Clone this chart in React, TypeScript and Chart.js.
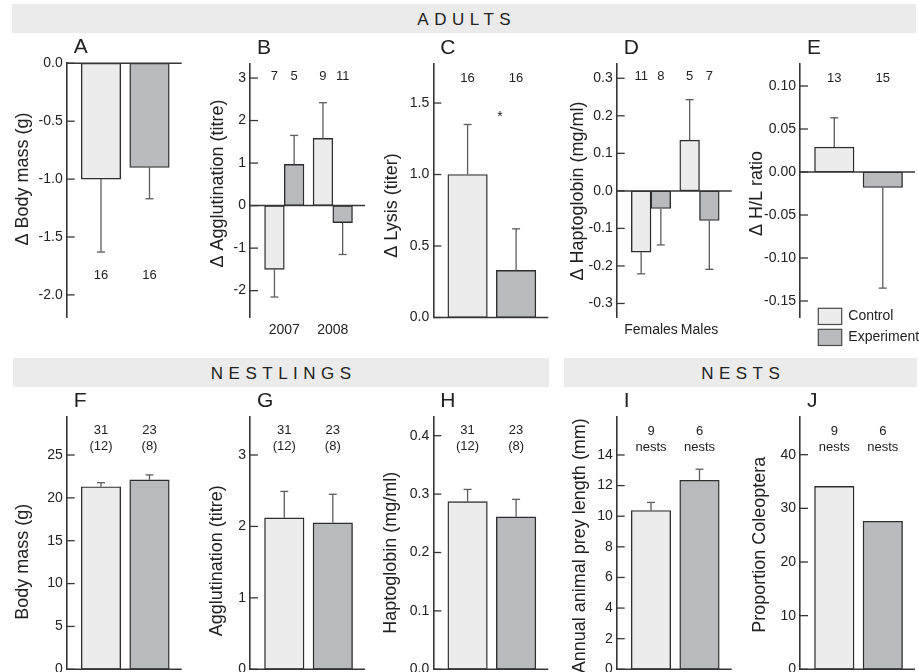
import React, { useEffect, useRef } from "react";
import { Chart, registerables } from "chart.js";

Chart.register(...registerables);

const FONT = '"Liberation Sans", Arial, Helvetica, sans-serif';
Chart.defaults.font.family = FONT;

const CTRL_FILL = "#ececec";
const EXP_FILL = "#b9babd";
const EDGE = "#2e2e2e";
const ERR = "#5c5c5c";
const AXIS = "#363636";
const INK = "#222222";
const BAND = "#ebebeb";

const seriesNames = ["Control", "Experiment"];
const sectionTitles = ["ADULTS", "NESTLINGS", "NESTS"];

// A – adults, change in body mass
const massChangeCtrl = [-1.0];
const massChangeCtrlSE = [0.63];
const massChangeExp = [-0.9];
const massChangeExpSE = [0.27];
const massChangeCtrlN = ["16"];
const massChangeExpN = ["16"];
const massChangeTicks = [0, -0.5, -1, -1.5, -2];

// B – adults, change in agglutination by year
const years = ["2007", "2008"];
const agglutChangeCtrl = [-1.5, 1.58];
const agglutChangeCtrlSE = [0.65, 0.84];
const agglutChangeExp = [0.97, -0.4];
const agglutChangeExpSE = [0.68, 0.75];
const agglutChangeCtrlN = ["7", "9"];
const agglutChangeExpN = ["5", "11"];
const agglutChangeTicks = [3, 2, 1, 0, -1, -2];

// C – adults, change in lysis
const lysisChangeCtrl = [1.0];
const lysisChangeCtrlSE = [0.35];
const lysisChangeExp = [0.33];
const lysisChangeExpSE = [0.29];
const lysisChangeCtrlN = ["16"];
const lysisChangeExpN = ["16"];
const lysisChangeTicks = [0, 0.5, 1, 1.5];

// D – adults, change in haptoglobin by sex
const sexes = ["Females", "Males"];
const haptoChangeCtrl = [-0.163, 0.135];
const haptoChangeCtrlSE = [0.058, 0.108];
const haptoChangeExp = [-0.047, -0.079];
const haptoChangeExpSE = [0.097, 0.13];
const haptoChangeCtrlN = ["11", "5"];
const haptoChangeExpN = ["8", "7"];
const haptoChangeTicks = [0.3, 0.2, 0.1, 0, -0.1, -0.2, -0.3];

// E – adults, change in H/L ratio
const hlChangeCtrl = [0.029];
const hlChangeCtrlSE = [0.034];
const hlChangeExp = [-0.018];
const hlChangeExpSE = [0.117];
const hlChangeCtrlN = ["13"];
const hlChangeExpN = ["15"];
const hlChangeTicks = [0.1, 0.05, 0, -0.05, -0.1, -0.15];

// F – nestlings, body mass
const nestMassCtrl = [21.3];
const nestMassCtrlSE = [0.47];
const nestMassExp = [22.1];
const nestMassExpSE = [0.58];
const nestlingCtrlN = ["31\n(12)"];
const nestlingExpN = ["23\n(8)"];
const nestMassTicks = [0, 5, 10, 15, 20, 25];

// G – nestlings, agglutination
const nestAggCtrl = [2.12];
const nestAggCtrlSE = [0.37];
const nestAggExp = [2.05];
const nestAggExpSE = [0.4];
const nestAggTicks = [0, 1, 2, 3];

// H – nestlings, haptoglobin
const nestHaptoCtrl = [0.287];
const nestHaptoCtrlSE = [0.021];
const nestHaptoExp = [0.261];
const nestHaptoExpSE = [0.03];
const nestHaptoTicks = [0, 0.1, 0.2, 0.3, 0.4];

// I – nests, annual animal prey length
const preyLenCtrl = [10.37];
const preyLenCtrlSE = [0.53];
const preyLenExp = [12.35];
const preyLenExpSE = [0.72];
const nestsCtrlN = ["9\nnests"];
const nestsExpN = ["6\nnests"];
const preyLenTicks = [0, 2, 4, 6, 8, 10, 12, 14];

// J – nests, proportion Coleoptera
const coleoCtrl = [34.1];
const coleoExp = [27.6];
const coleoTicks = [0, 10, 20, 30, 40];

type PanelSpec = {
  letter: string;
  title: string;
  ax: number;
  top: number;
  bottom: number;
  min: number;
  max: number;
  ticks: number[];
  dec: number;
  groups: string[] | null;
  ctrl: number[];
  exp: number[];
  ctrlSE: number[] | null;
  expSE: number[] | null;
  ctrlN: string[];
  expN: string[];
  nY: number;
  titleDX: number;
  titleY: number;
  legend?: boolean;
  star?: boolean;
};

const TOP1 = 64;
const BOT1 = 317;
const TOP2 = 416.7;
const BOT2 = 669.3;

const panels: PanelSpec[] = [
  { letter: "A", title: "Δ Body mass (g)", ax: 66.7, top: 63.3, bottom: BOT1, min: -2.191, max: 0, ticks: massChangeTicks, dec: 1, groups: null,
    ctrl: massChangeCtrl, exp: massChangeExp, ctrlSE: massChangeCtrlSE, expSE: massChangeExpSE, ctrlN: massChangeCtrlN, expN: massChangeExpN, nY: 211.7, titleDX: 39, titleY: 115.7 },
  { letter: "B", title: "Δ Agglutination (titre)", ax: 250, top: TOP1, bottom: BOT1, min: -2.62, max: 3.33, ticks: agglutChangeTicks, dec: 0, groups: years,
    ctrl: agglutChangeCtrl, exp: agglutChangeExp, ctrlSE: agglutChangeCtrlSE, expSE: agglutChangeExpSE, ctrlN: agglutChangeCtrlN, expN: agglutChangeExpN, nY: 12, titleDX: 27.3, titleY: 119.5 },
  { letter: "C", title: "Δ Lysis (titer)", ax: 433.3, top: TOP1, bottom: 317.5, min: 0, max: 1.773, ticks: lysisChangeTicks, dec: 1, groups: null,
    ctrl: lysisChangeCtrl, exp: lysisChangeExp, ctrlSE: lysisChangeCtrlSE, expSE: lysisChangeExpSE, ctrlN: lysisChangeCtrlN, expN: lysisChangeExpN, nY: 14, titleDX: 36, titleY: 141.5, star: true },
  { letter: "D", title: "Δ Haptoglobin (mg/ml)", ax: 616.7, top: TOP1, bottom: BOT1, min: -0.336, max: 0.338, ticks: haptoChangeTicks, dec: 1, groups: sexes,
    ctrl: haptoChangeCtrl, exp: haptoChangeExp, ctrlSE: haptoChangeCtrlSE, expSE: haptoChangeExpSE, ctrlN: haptoChangeCtrlN, expN: haptoChangeExpN, nY: 12, titleDX: 34, titleY: 127 },
  { letter: "E", title: "Δ H/L ratio", ax: 800, top: TOP1, bottom: BOT1, min: -0.1686, max: 0.1256, ticks: hlChangeTicks, dec: 2, groups: null,
    ctrl: hlChangeCtrl, exp: hlChangeExp, ctrlSE: hlChangeCtrlSE, expSE: hlChangeExpSE, ctrlN: hlChangeCtrlN, expN: hlChangeExpN, nY: 14, titleDX: 38.3, titleY: 129.5, legend: true },
  { letter: "F", title: "Body mass (g)", ax: 66.7, top: TOP2, bottom: BOT2, min: 0, max: 29.47, ticks: nestMassTicks, dec: 0, groups: null,
    ctrl: nestMassCtrl, exp: nestMassExp, ctrlSE: nestMassCtrlSE, expSE: nestMassExpSE, ctrlN: nestlingCtrlN, expN: nestlingExpN, nY: 13.3, titleDX: 39, titleY: 145 },
  { letter: "G", title: "Agglutination (titre)", ax: 250, top: TOP2, bottom: BOT2, min: 0, max: 3.536, ticks: nestAggTicks, dec: 0, groups: null,
    ctrl: nestAggCtrl, exp: nestAggExp, ctrlSE: nestAggCtrlSE, expSE: nestAggExpSE, ctrlN: nestlingCtrlN, expN: nestlingExpN, nY: 13.3, titleDX: 28.3, titleY: 144 },
  { letter: "H", title: "Haptoglobin (mg/ml)", ax: 433.3, top: TOP2, bottom: BOT2, min: 0, max: 0.4325, ticks: nestHaptoTicks, dec: 1, groups: null,
    ctrl: nestHaptoCtrl, exp: nestHaptoExp, ctrlSE: nestHaptoCtrlSE, expSE: nestHaptoExpSE, ctrlN: nestlingCtrlN, expN: nestlingExpN, nY: 13.3, titleDX: 37.3, titleY: 136 },
  { letter: "I", title: "Annual animal prey length (mm)", ax: 616.7, top: TOP2, bottom: BOT2, min: 0, max: 16.5, ticks: preyLenTicks, dec: 0, groups: null,
    ctrl: preyLenCtrl, exp: preyLenExp, ctrlSE: preyLenCtrlSE, expSE: preyLenExpSE, ctrlN: nestsCtrlN, expN: nestsExpN, nY: 14.3, titleDX: 31.7, titleY: 129 },
  { letter: "J", title: "Proportion Coleoptera", ax: 800, top: TOP2, bottom: BOT2, min: 0, max: 47.08, ticks: coleoTicks, dec: 0, groups: null,
    ctrl: coleoCtrl, exp: coleoExp, ctrlSE: null, expSE: null, ctrlN: nestsCtrlN, expN: nestsExpN, nY: 14.3, titleDX: 35, titleY: 128 },
];

const PLOT_W = 115;
const Y_W = 62;

function line(ctx: CanvasRenderingContext2D, x1: number, y1: number, x2: number, y2: number) {
  ctx.beginPath();
  ctx.moveTo(x1, y1);
  ctx.lineTo(x2, y2);
  ctx.stroke();
}

function makeDecor(p: PanelSpec) {
  return {
    id: "decor" + p.letter,
    afterDraw(chart: any) {
      const ctx: CanvasRenderingContext2D = chart.ctx;
      const area = chart.chartArea;
      const ys = chart.scales.y;
      const xs = chart.scales.x;
      ctx.save();
      ctx.strokeStyle = AXIS;
      // zero / base line
      const y0 = ys.getPixelForValue(0);
      ctx.lineWidth = 1.5;
      line(ctx, area.left, y0, area.right, y0);
      // inward ticks
      ctx.lineWidth = 1.3;
      for (const v of p.ticks) {
        const y = ys.getPixelForValue(v);
        line(ctx, area.left, y, area.left + 8, y);
      }
      // error bars
      ctx.strokeStyle = ERR;
      ctx.lineWidth = 1.3;
      [p.ctrlSE, p.expSE].forEach((se, di) => {
        if (!se) return;
        const vals = di === 0 ? p.ctrl : p.exp;
        const meta = chart.getDatasetMeta(di);
        meta.data.forEach((el: any, i: number) => {
          const v = vals[i];
          const end = v + Math.sign(v) * se[i];
          const yEnd = ys.getPixelForValue(end);
          line(ctx, el.x, el.y, el.x, yEnd);
          line(ctx, el.x - 4, yEnd, el.x + 4, yEnd);
        });
      });
      // sample sizes
      ctx.fillStyle = INK;
      ctx.font = `13px ${FONT}`;
      ctx.textAlign = "center";
      ctx.textBaseline = "middle";
      [p.ctrlN, p.expN].forEach((labels, di) => {
        const meta = chart.getDatasetMeta(di);
        meta.data.forEach((el: any, i: number) => {
          const lines = (labels[i] || "").split("\n");
          lines.forEach((t, li) => ctx.fillText(t, el.x, area.top + p.nY + li * 16));
        });
      });
      // significance star
      if (p.star) {
        const el = chart.getDatasetMeta(1).data[0];
        ctx.font = `14px ${FONT}`;
        ctx.textBaseline = "alphabetic";
        ctx.fillText("*", el.x - 16, area.top + 56.5);
      }
      // group labels
      if (p.groups) {
        ctx.font = `14px ${FONT}`;
        ctx.textBaseline = "middle";
        p.groups.forEach((g, i) => ctx.fillText(g, xs.getPixelForValue(i), area.bottom + 13));
      }
      // panel letter
      ctx.font = `21px ${FONT}`;
      ctx.textAlign = "left";
      ctx.textBaseline = "alphabetic";
      ctx.fillText(p.letter, area.left + 7, area.top - 10);
      // axis title
      ctx.save();
      ctx.translate(area.left - p.titleDX, area.top + p.titleY);
      ctx.rotate(-Math.PI / 2);
      ctx.font = `18px ${FONT}`;
      ctx.textAlign = "center";
      ctx.fillText(p.title, 0, 0);
      ctx.restore();
      // legend
      if (p.legend) {
        const ds = chart.data.datasets;
        const offs = [-8.7, 12.3];
        ds.forEach((d: any, i: number) => {
          const bx = area.left + 18.3;
          const by = area.bottom + offs[i];
          ctx.fillStyle = d.backgroundColor;
          ctx.fillRect(bx, by, 23.4, 16.2);
          ctx.strokeStyle = "#4a4a4a";
          ctx.lineWidth = 1.2;
          ctx.strokeRect(bx, by, 23.4, 16.2);
          ctx.fillStyle = INK;
          ctx.font = `14px ${FONT}`;
          ctx.textAlign = "left";
          ctx.textBaseline = "middle";
          ctx.fillText(d.label, area.left + 48.3, by + 8.3);
        });
      }
      ctx.restore();
    },
  };
}

function PanelChart({ p }: { p: PanelSpec }) {
  const ref = useRef<HTMLCanvasElement>(null);
  const cLeft = Math.floor(p.ax - Y_W);
  const yW = p.ax - cLeft;
  const cTop = Math.floor(p.top - 32);
  const padTop = p.top - cTop;
  const cRight = Math.ceil(p.ax + PLOT_W + 4);
  const cW = cRight - cLeft;
  const padRight = cW - yW - PLOT_W;
  const cBottom = Math.ceil(p.bottom + 42);
  const cH = cBottom - cTop;
  const padBottom = cBottom - p.bottom;

  useEffect(() => {
    const grouped = !!p.groups;
    const thickness = grouped ? 19.7 : 39.5;
    const ctrlData = p.ctrl.map((v, i) => ({ x: grouped ? i : 0, y: v }));
    const expData = p.exp.map((v, i) => ({ x: grouped ? i : 1, y: v }));
    const common = {
      borderColor: EDGE,
      borderWidth: 1.4,
      borderSkipped: false,
      barThickness: thickness,
      grouped,
    };
    const chart = new Chart(ref.current as HTMLCanvasElement, {
      type: "bar",
      data: {
        datasets: [
          { label: seriesNames[0], data: ctrlData, backgroundColor: CTRL_FILL, ...common } as any,
          { label: seriesNames[1], data: expData, backgroundColor: EXP_FILL, ...common } as any,
        ],
      },
      options: {
        animation: false,
        responsive: false,
        maintainAspectRatio: false,
        layout: { padding: { top: padTop, bottom: padBottom, left: 0, right: padRight } },
        plugins: { legend: { display: false }, tooltip: { enabled: false } },
        scales: {
          x: { type: "linear", min: -0.707, max: 1.664, display: false, offset: false },
          y: {
            type: "linear",
            min: p.min,
            max: p.max,
            afterFit: (s: any) => {
              s.width = yW;
            },
            afterBuildTicks: (s: any) => {
              s.ticks = p.ticks.map((v) => ({ value: v }));
            },
            ticks: {
              autoSkip: false,
              padding: 4,
              color: INK,
              font: { size: 14, family: FONT },
              callback: (v: any) => Number(v).toFixed(p.dec),
            },
            grid: { display: false, drawTicks: false, tickLength: 0 },
            border: { display: true, color: AXIS, width: 1.6 },
          },
        },
      } as any,
      plugins: [makeDecor(p)],
    });
    return () => chart.destroy();
  }, []);

  return (
    <canvas
      ref={ref}
      width={cW}
      height={cH}
      style={{ position: "absolute", left: cLeft, top: cTop, width: cW, height: cH }}
    />
  );
}

const bands = [
  { text: sectionTitles[0], left: 12, top: 4, width: 904, height: 29 },
  { text: sectionTitles[1], left: 13, top: 358, width: 536, height: 29 },
  { text: sectionTitles[2], left: 564, top: 358, width: 353, height: 29 },
];

export default function App() {
  return (
    <div
      style={{
        position: "absolute",
        left: 0,
        top: 0,
        width: 919,
        height: 672,
        overflow: "hidden",
        background: "#ffffff",
      }}
    >
      {bands.map((b) => (
        <div
          key={b.text}
          style={{
            position: "absolute",
            left: b.left,
            top: b.top,
            width: b.width,
            height: b.height,
            background: BAND,
            color: INK,
            font: `17px ${FONT}`,
            letterSpacing: "5.5px",
            textAlign: "center",
            lineHeight: `${b.height + 3}px`,
            paddingLeft: 5.5,
            boxSizing: "border-box",
            whiteSpace: "nowrap",
          }}
        >
          {b.text}
        </div>
      ))}
      {panels.map((p) => (
        <PanelChart key={p.letter} p={p} />
      ))}
    </div>
  );
}
